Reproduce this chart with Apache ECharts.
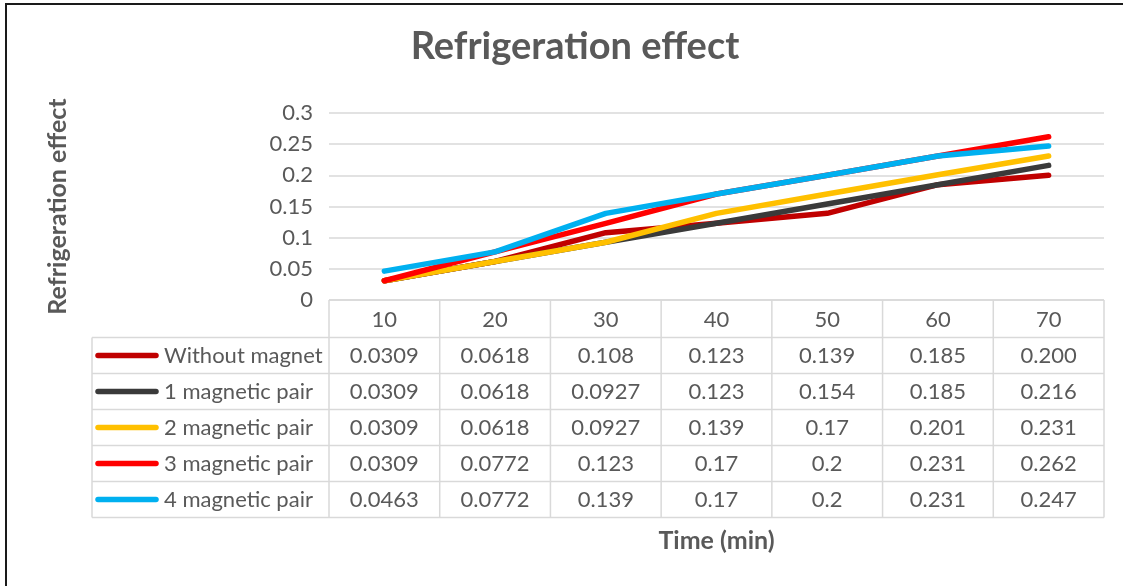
<!DOCTYPE html>
<html>
<head>
<meta charset="utf-8">
<script src="https://cdn.jsdelivr.net/npm/echarts@6/dist/echarts.min.js"></script>
<style>
html,body{margin:0;padding:0;background:#fff;}
#main{width:1123px;height:586px;}
</style>
</head>
<body>
<div id="main"></div>
<script>
const categories = ['10', '20', '30', '40', '50', '60', '70'];
const seriesNames = ['Without magnet', '1 magnetic pair', '2 magnetic pair', '3 magnetic pair', '4 magnetic pair'];
const withoutMagnet = ['0.0309', '0.0618', '0.108', '0.123', '0.139', '0.185', '0.200'];
const magneticPair1 = ['0.0309', '0.0618', '0.0927', '0.123', '0.154', '0.185', '0.216'];
const magneticPair2 = ['0.0309', '0.0618', '0.0927', '0.139', '0.17', '0.201', '0.231'];
const magneticPair3 = ['0.0309', '0.0772', '0.123', '0.17', '0.2', '0.231', '0.262'];
const magneticPair4 = ['0.0463', '0.0772', '0.139', '0.17', '0.2', '0.231', '0.247'];
const seriesValues = [withoutMagnet, magneticPair1, magneticPair2, magneticPair3, magneticPair4];
const seriesColors = ['#C00000', '#3A3A3A', '#FFC000', '#FF0000', '#00B0F0'];

const FONT = 'Lato';
const TXT = '#595959';
const GRIDC = '#d9d9d9';

const chart = echarts.init(document.getElementById('main'));
const option = {
  animation: false,
  backgroundColor: '#fff',
  title: {
    text: 'Refrigeration effect',
    left: 570,
    textAlign: 'center',
    top: 23,
    textStyle: { fontFamily: FONT, fontWeight: 'bold', fontSize: 38, color: TXT }
  },
  grid: { left: 329, right: 19, top: 113, bottom: 286 },
  xAxis: {
    type: 'category',
    data: categories,
    boundaryGap: true,
    axisLine: { show: false },
    axisTick: { show: false },
    axisLabel: { margin: 9, fontFamily: FONT, fontSize: 22, color: TXT },
    name: 'Time (min)',
    nameLocation: 'middle',
    nameGap: 228,
    nameTextStyle: { fontFamily: FONT, fontWeight: 'bold', fontSize: 25, color: TXT }
  },
  yAxis: {
    type: 'value',
    min: 0, max: 0.3, interval: 0.05,
    axisLine: { show: false },
    axisTick: { show: false },
    axisLabel: { margin: 16, fontFamily: FONT, fontSize: 22, color: TXT },
    splitLine: { lineStyle: { color: GRIDC, width: 1.5 } },
    name: 'Refrigeration effect',
    nameLocation: 'middle',
    nameRotate: 90,
    nameGap: 259,
    nameTextStyle: { fontFamily: FONT, fontWeight: 'bold', fontSize: 25, color: TXT }
  },
  series: seriesNames.map((n, i) => ({
    name: n,
    type: 'line',
    data: seriesValues[i].map(Number),
    symbol: 'none',
    lineStyle: { color: seriesColors[i], width: 5.5, cap: 'round', join: 'round' },
    itemStyle: { color: seriesColors[i] }
  }))
};
chart.setOption(option);

function buildTable() {
  const centers = categories.map(c => chart.convertToPixel({ xAxisIndex: 0 }, c));
  const band = centers[1] - centers[0];
  const left = centers[0] - band / 2;
  const right = centers[centers.length - 1] + band / 2;
  const top = chart.convertToPixel({ yAxisIndex: 0 }, 0);
  const headerH = 37.5;
  const rowH = 36;
  const tableLeft = 92;
  const bottom = top + headerH + rowH * seriesNames.length;
  const els = [];
  const ls = { stroke: GRIDC, lineWidth: 1.5 };
  els.push({ type: 'line', shape: { x1: left, y1: top, x2: right, y2: top }, style: ls, silent: true });
  for (let r = 0; r <= seriesNames.length; r++) {
    const y = top + headerH + r * rowH;
    els.push({ type: 'line', shape: { x1: tableLeft, y1: y, x2: right, y2: y }, style: ls, silent: true });
  }
  for (let c = 0; c <= categories.length; c++) {
    const x = left + c * band;
    els.push({ type: 'line', shape: { x1: x, y1: top, x2: x, y2: bottom }, style: ls, silent: true });
  }
  els.push({ type: 'line', shape: { x1: tableLeft, y1: top + headerH, x2: tableLeft, y2: bottom }, style: ls, silent: true });
  seriesNames.forEach((n, r) => {
    const yc = top + headerH + r * rowH + rowH / 2;
    els.push({ type: 'line', shape: { x1: 98, y1: yc, x2: 156, y2: yc },
      style: { stroke: seriesColors[r], lineWidth: 5.5, lineCap: 'round' }, silent: true });
    els.push({ type: 'text', x: 164, y: yc,
      style: { text: n, fill: TXT, font: '22px ' + FONT, textAlign: 'left', textVerticalAlign: 'middle' }, silent: true });
    seriesValues[r].forEach((v, c) => {
      els.push({ type: 'text', x: centers[c], y: yc,
        style: { text: v, fill: TXT, font: '22px ' + FONT, textAlign: 'center', textVerticalAlign: 'middle' }, silent: true });
    });
  });
  els.push({ type: 'rect', shape: { x: 6, y: 4, width: 1300, height: 800 },
    style: { fill: 'none', stroke: '#1a1a1a', lineWidth: 2 }, silent: true });
  chart.setOption({ graphic: { elements: els } });
}
buildTable();
</script>
</body>
</html>
